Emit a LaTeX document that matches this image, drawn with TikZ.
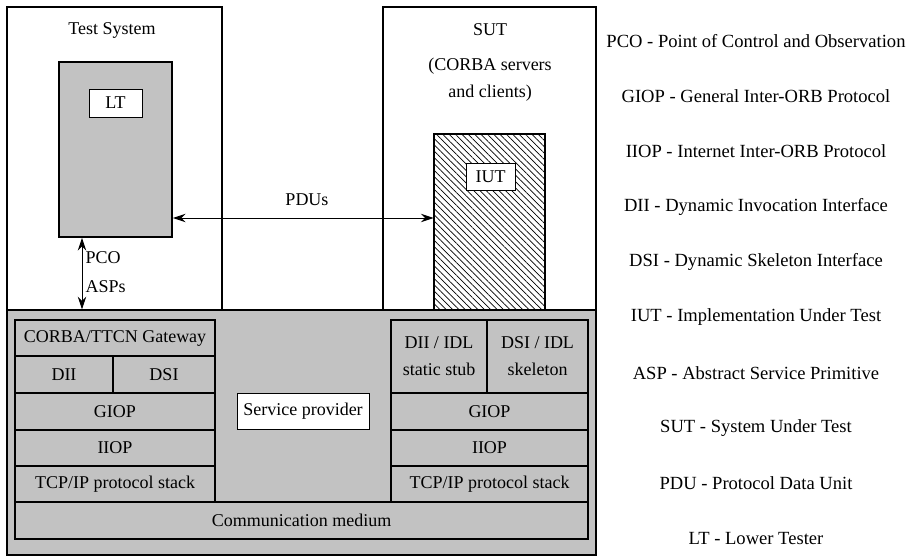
\documentclass[tikz,border=0pt]{standalone}
\usepackage{fontspec}
\setmainfont{Liberation Serif}
\usepackage{tikz}
\usetikzlibrary{positioning,arrows.meta,patterns.meta}
\definecolor{grisfondo}{gray}{.76}

\begin{document}
\begin{tikzpicture}[
    x=0.025cm, y=-0.025cm,
    font=\fontsize{12.8}{19.2}\selectfont,
    >={Stealth[length=9pt,width=6pt]},
    size/.style 2 args={minimum width=#1*0.025cm, minimum height=#2*0.025cm},
    frame/.style={draw, line width=0.8pt, inner sep=0pt},
    layer/.style={frame, fill=grisfondo, align=center},
    tag/.style={draw, line width=0.7pt, fill=white, inner sep=0pt},
    legend/.style={font=\fontsize{13.2}{16}\selectfont}
  ]
    \useasboundingbox (0,0) rectangle (909,557);

    % lower part: service provider
    \node[layer, size={589}{245}] at (301.5,432.5) (provarea) {};
    \node[frame, size={215}{303}] at (114.5,158.5) (testsys) {};
    \node[frame, size={213}{303}] at (489.5,158.5) (sut) {};
    \node at (112,30) (testsyslbl) {Test System};
    \node at (490,30) (sutlbl) {SUT};
    \node[align=center] at (490,79.5) (sutnote) {(CORBA servers\\and clients)};

    % LT and IUT
    \node[layer, line width=1.3pt, size={113}{175}] at (115.5,149.5) (lt) {};
    \node[tag, size={53}{28}] at (115.5,103) (ltlbl) {LT};
    \node[frame, line width=1.3pt, fill=white,
      pattern={Lines[angle=-45,distance=3.2pt,line width=0.5pt]},
      size={111}{176}] at (489.5,222) (iut) {};
    \node[tag, size={49}{27}] at (490.5,176.5) (iutlbl) {IUT};

    % left stack
    \node[layer, size={200}{36}] at (115,338) (gateway) {CORBA/TTCN Gateway};
    \node[layer, size={98}{37}] at (64,374.5) (dii) {DII};
    \node[layer, size={102}{37}] at (164,374.5) (dsi) {DSI};
    \node[layer, size={200}{37}] at (115,411.5) (giopl) {GIOP};
    \node[layer, size={200}{36}] at (115,448) (iiopl) {IIOP};
    \node[layer, size={200}{36}] at (115,484) (tcpl) {TCP/IP protocol stack};

    % right stack
    \node[layer, size={96}{73}] at (439,356.5) (stub) {DII / IDL\\static stub};
    \node[layer, size={101}{73}] at (537.5,356.5) (skel) {DSI / IDL\\skeleton};
    \node[layer, size={197}{37}] at (489.5,411.5) (giopr) {GIOP};
    \node[layer, size={197}{36}] at (489.5,448) (iiopr) {IIOP};
    \node[layer, size={197}{36}] at (489.5,484) (tcpr) {TCP/IP protocol stack};

    \node[layer, size={573}{37}] at (301.5,520.5) (medium) {Communication medium};
    \node[tag, size={132}{36}] at (303,411) (provlbl) {Service provider};

    % arrows
    \coordinate (pdulevel) at (300,218);
    \coordinate (pcox) at (82,270);
    \draw[<->, line width=0.7pt] (lt.east |- pdulevel) -- (iut.west |- pdulevel);
    \node at (307,200) (pdus) {PDUs};
    \draw[<->, line width=0.7pt] (lt.south -| pcox) -- (provarea.north -| pcox);
    \node[anchor=west, inner xsep=1pt] at (84,258) (pco) {PCO};
    \node[anchor=west, inner xsep=1pt] at (84,287) (asps) {ASPs};

    % abbreviations
    \foreach \abbr [count=\i from 0] in {
        PCO - Point of Control and Observation,
        GIOP - General Inter-ORB Protocol,
        IIOP - Internet Inter-ORB Protocol,
        DII - Dynamic Invocation Interface,
        DSI - Dynamic Skeleton Interface,
        IUT - Implementation Under Test,
        ASP - Abstract Service Primitive,
        SUT - System Under Test,
        PDU - Protocol Data Unit,
        LT - Lower Tester}
      \node[legend] at (756,41+55.3*\i) (abbr\i) {\abbr};
  \end{tikzpicture}
\end{document}
